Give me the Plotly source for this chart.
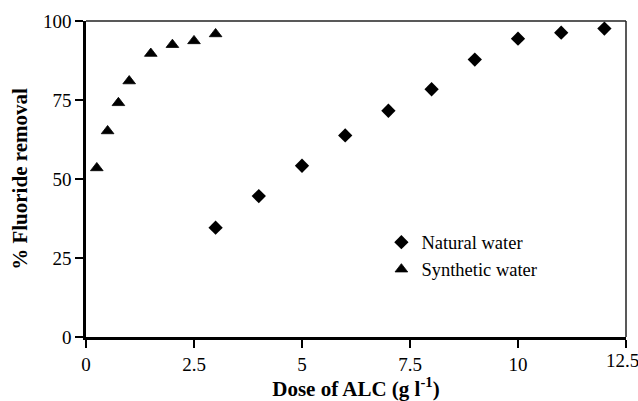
import plotly.graph_objects as go

# Data
natural_dose = [3, 4, 5, 6, 7, 8, 9, 10, 11, 12]
natural_removal = [34.6, 44.6, 54.2, 63.8, 71.6, 78.4, 87.8, 94.4, 96.3, 97.6]
synthetic_dose = [0.25, 0.5, 0.75, 1.0, 1.5, 2.0, 2.5, 3.0]
synthetic_removal = [53.5, 65.2, 74.1, 81.0, 89.7, 92.5, 93.7, 95.9]

x_ticks = [0, 2.5, 5, 7.5, 10, 12.5]
x_tick_labels = ["0", "2.5", "5", "7.5", "10", "12.5"]
y_ticks = [0, 25, 50, 75, 100]
y_tick_labels = ["0", "25", "50", "75", "100"]

FONT = "Liberation Serif, Times New Roman, serif"
TICK_SIZE = 19

fig = go.Figure()
fig.add_trace(go.Scatter(
    x=natural_dose, y=natural_removal, mode="markers", name="Natural water",
    marker=dict(symbol="diamond", size=11, color="black"),
    cliponaxis=False,
))
fig.add_trace(go.Scatter(
    x=synthetic_dose, y=synthetic_removal, mode="markers", name="Synthetic water",
    marker=dict(symbol="triangle-up", size=11, color="black",
                line=dict(color="black", width=0.8)),
    cliponaxis=False,
))

fig.update_layout(
    width=638, height=401,
    margin=dict(l=86, r=12, t=21, b=64, autoexpand=False),
    paper_bgcolor="white", plot_bgcolor="white",
    font=dict(family=FONT, size=18, color="black"),
    showlegend=True,
    legend=dict(x=0.547, y=0.256, xanchor="left", yanchor="middle",
                bgcolor="rgba(0,0,0,0)", font=dict(family=FONT, size=18.5),
                itemsizing="trace", tracegroupgap=0),
    xaxis=dict(
        range=[0, 12.5], tickvals=x_ticks[:-1], ticktext=x_tick_labels[:-1],
        minor=dict(tickvals=x_ticks[-1:], ticks="outside", ticklen=8, tickwidth=1.5,
                   tickcolor="black", showgrid=False),
        showgrid=False, zeroline=False, showline=True, linecolor="black", linewidth=2.5,
        ticks="outside", ticklen=8, tickwidth=1.5, tickcolor="black",
        tickfont=dict(family=FONT, size=TICK_SIZE), automargin=False,
        title=dict(text="<b>Dose of ALC (g l<sup>-1</sup>)</b>", font=dict(family=FONT, size=21), standoff=8),
    ),
    yaxis=dict(
        range=[0, 100], tickvals=y_ticks, ticktext=y_tick_labels,
        showgrid=False, zeroline=False, showline=True, linecolor="black", linewidth=2.5,
        ticks="outside", ticklen=8, tickwidth=1.5, tickcolor="black",
        tickfont=dict(family=FONT, size=TICK_SIZE), automargin=False,
        title=dict(text="<b>% Fluoride removal</b>", font=dict(family=FONT, size=21), standoff=10),
    ),
)
# last x label drawn as annotation so it is not dropped at the right edge
fig.add_annotation(x=x_ticks[-1], y=0, xref="x", yref="y", text=x_tick_labels[-1],
                   showarrow=False, xanchor="center", yanchor="top", yshift=-11, xshift=-4,
                   font=dict(family=FONT, size=TICK_SIZE))
# thin top and right frame lines
fig.add_shape(type="line", xref="paper", yref="paper", x0=0, x1=1, y0=1, y1=1,
              line=dict(color="#222", width=1.5))
fig.add_shape(type="line", xref="paper", yref="paper", x0=1, x1=1, y0=0, y1=1,
              line=dict(color="#222", width=1.5))

fig.write_html("out.html")
